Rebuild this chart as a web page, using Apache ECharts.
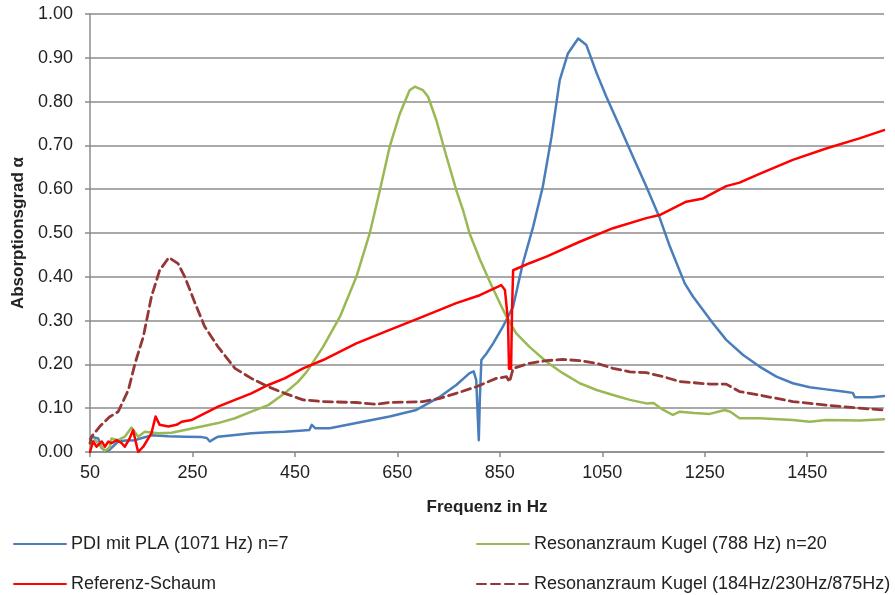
<!DOCTYPE html>
<html lang="de">
    <head>
        <title>Absorptionsgrad</title>
        <meta charset="utf-8">
        <script src='https://cdn.jsdelivr.net/npm/echarts@6.0.0/dist/echarts.min.js'></script>
    </head>

    <style>
        html, body, #main {
            width: 100%;
            height: 100%;
            margin: 0;
            background: #fff;
        }
    </style>

    <body>
        <div id='main'></div>

        <script>
            // values (Hz, alpha)
            const seriesNames = [
                'PDI mit PLA (1071 Hz) n=7',
                'Resonanzraum Kugel (788 Hz) n=20',
                'Referenz-Schaum',
                'Resonanzraum Kugel (184Hz/230Hz/875Hz)'
            ];

            const xTicks = [50, 250, 450, 650, 850, 1050, 1250, 1450];

            const pdiFreq = [50, 53, 66, 72, 80, 88, 105, 120, 138, 155, 170, 203, 235, 268, 278, 284, 292, 300, 333, 365, 400, 430, 466, 478, 483, 490, 518, 570, 635, 687, 733, 765, 791, 799, 804, 807, 809, 811, 814, 824, 837, 856, 876, 895, 915, 934, 951, 967, 983, 1003, 1019, 1039, 1058, 1084, 1110, 1136, 1162, 1182, 1211, 1227, 1266, 1292, 1325, 1357, 1390, 1422, 1455, 1487, 1520, 1539, 1543, 1578, 1600];
            const pdiAlpha = [0.03, 0.035, 0.031, 0.01, 0.002, 0.005, 0.024, 0.026, 0.027, 0.033, 0.038, 0.036, 0.035, 0.034, 0.032, 0.024, 0.030, 0.035, 0.039, 0.043, 0.045, 0.046, 0.049, 0.050, 0.062, 0.054, 0.054, 0.066, 0.081, 0.096, 0.126, 0.153, 0.18, 0.184, 0.164, 0.08, 0.027, 0.12, 0.21, 0.225, 0.248, 0.286, 0.332, 0.431, 0.514, 0.606, 0.72, 0.849, 0.91, 0.944, 0.929, 0.865, 0.811, 0.743, 0.674, 0.606, 0.535, 0.469, 0.385, 0.355, 0.294, 0.256, 0.2215, 0.195, 0.172, 0.157, 0.148, 0.143, 0.138, 0.135, 0.125, 0.125, 0.128];

            const kugel788Freq = [50, 60, 70, 79, 88, 92, 105, 118, 131, 144, 157, 183, 209, 235, 268, 300, 333, 365, 398, 430, 456, 473, 505, 538, 570, 596, 616, 635, 655, 674, 684, 700, 710, 726, 746, 765, 778, 791, 811, 830, 850, 863, 882, 908, 941, 973, 1006, 1039, 1071, 1104, 1136, 1150, 1169, 1188, 1201, 1230, 1260, 1289, 1300, 1318, 1357, 1422, 1455, 1487, 1552, 1600];
            const kugel788Alpha = [0.02, 0.027, 0.015, 0.003, 0.01, 0.031, 0.027, 0.035, 0.056, 0.035, 0.046, 0.043, 0.044, 0.05, 0.058, 0.066, 0.077, 0.092, 0.107, 0.134, 0.16, 0.183, 0.24, 0.309, 0.40, 0.499, 0.598, 0.697, 0.773, 0.826, 0.834, 0.826, 0.811, 0.758, 0.674, 0.598, 0.553, 0.499, 0.44, 0.39, 0.34, 0.309, 0.271, 0.24, 0.206, 0.18, 0.157, 0.1415, 0.13, 0.119, 0.111, 0.112, 0.096, 0.085, 0.092, 0.089, 0.087, 0.096, 0.092, 0.077, 0.077, 0.073, 0.069, 0.073, 0.072, 0.075];

            const schaumFreq = [50, 56, 63, 73, 79, 86, 92, 102, 112, 118, 127, 134, 140, 144, 154, 170, 178, 186, 203, 219, 229, 248, 268, 300, 333, 365, 398, 430, 466, 505, 570, 635, 700, 765, 811, 853, 860, 866, 868, 872, 874, 876, 908, 941, 1006, 1071, 1136, 1162, 1214, 1247, 1292, 1318, 1357, 1422, 1487, 1552, 1600];
            const schaumAlpha = [0.0, 0.024, 0.012, 0.024, 0.012, 0.024, 0.02, 0.027, 0.02, 0.012, 0.03, 0.05, 0.02, 0.0, 0.012, 0.043, 0.081, 0.062, 0.058, 0.062, 0.069, 0.073, 0.085, 0.1035, 0.119, 0.134, 0.153, 0.168, 0.191, 0.21, 0.248, 0.279, 0.309, 0.34, 0.358, 0.381, 0.37, 0.30, 0.19, 0.19, 0.33, 0.415, 0.431, 0.446, 0.48, 0.511, 0.534, 0.541, 0.5715, 0.579, 0.607, 0.615, 0.635, 0.667, 0.693, 0.716, 0.735];

            const kugel184Freq = [50, 53, 69, 88, 105, 125, 138, 154, 170, 186, 204, 222, 235, 255, 274, 300, 333, 365, 398, 430, 466, 505, 570, 609, 635, 700, 733, 765, 804, 843, 863, 869, 876, 908, 941, 973, 1006, 1039, 1071, 1104, 1136, 1169, 1201, 1260, 1292, 1318, 1357, 1422, 1487, 1552, 1600];
            const kugel184Alpha = [0.02, 0.035, 0.058, 0.08, 0.092, 0.142, 0.2025, 0.263, 0.355, 0.415, 0.444, 0.43, 0.40, 0.34, 0.286, 0.24, 0.191, 0.168, 0.149, 0.134, 0.119, 0.115, 0.113, 0.109, 0.113, 0.115, 0.1225, 0.134, 0.149, 0.168, 0.172, 0.16, 0.191, 0.2025, 0.2085, 0.2115, 0.2085, 0.2025, 0.191, 0.183, 0.181, 0.172, 0.161, 0.155, 0.155, 0.138, 0.130, 0.115, 0.107, 0.10, 0.096];

            const pairs = (xs, ys) => xs.map((x, i) => [x, ys[i]]);

            const font = "'Liberation Sans', Arial, sans-serif";
            const gridColor = '#8c8c8c';

            const lineSeries = (name, data, color, type, width) => ({
                name: name,
                type: 'line',
                data: data,
                symbol: 'none',
                smooth: false,
                lineStyle: { color: color, width: width, type: type, cap: 'round', join: 'round' },
                itemStyle: { color: color }
            });

            // the legend only shows the line, no marker
            const legendBase = {
                orient: 'vertical',
                top: 535,
                padding: 0,
                itemWidth: 52,
                itemHeight: 18,
                itemGap: 22,
                itemStyle: { opacity: 0 },
                textStyle: { fontFamily: font, fontSize: 18, color: '#222', lineHeight: 18 }
            };

            const chart = echarts.init(document.getElementById('main'));

            const option = {
                animation: false,
                grid: { left: 90, right: 11, top: 14, bottom: 143, containLabel: false },
                legend: [
                    Object.assign({ left: 13, data: [seriesNames[0], seriesNames[2]] }, legendBase),
                    Object.assign({ left: 476, data: [seriesNames[1], seriesNames[3]] }, legendBase)
                ],
                xAxis: {
                    type: 'value',
                    min: 50,
                    max: 1600,
                    name: 'Frequenz in Hz',
                    nameLocation: 'middle',
                    nameGap: 47,
                    nameTextStyle: { fontFamily: font, fontSize: 17, fontWeight: 'bold', color: '#222' },
                    axisLine: { show: true, lineStyle: { color: gridColor, width: 1.5 } },
                    axisTick: { show: true, length: 5, lineStyle: { color: gridColor, width: 1.5 }, customValues: xTicks },
                    axisLabel: {
                        fontFamily: font, fontSize: 18, color: '#222', margin: 12,
                        customValues: xTicks,
                        formatter: v => String(v)
                    },
                    splitLine: { show: false }
                },
                yAxis: {
                    type: 'value',
                    min: 0,
                    max: 1,
                    interval: 0.1,
                    name: 'Absorptionsgrad α',
                    nameLocation: 'middle',
                    nameGap: 63,
                    nameTextStyle: { fontFamily: font, fontSize: 17, fontWeight: 'bold', color: '#222' },
                    axisLine: { show: true, lineStyle: { color: gridColor, width: 1.5 } },
                    axisTick: { show: true, length: 5, lineStyle: { color: gridColor, width: 1.5 } },
                    axisLabel: {
                        fontFamily: font, fontSize: 18, color: '#222', margin: 17,
                        formatter: v => v.toFixed(2)
                    },
                    splitLine: { show: true, lineStyle: { color: gridColor, width: 1.5 } }
                },
                series: [
                    lineSeries(seriesNames[0], pairs(pdiFreq, pdiAlpha), '#4a7ebb', 'solid', 2.5),
                    lineSeries(seriesNames[1], pairs(kugel788Freq, kugel788Alpha), '#98b954', 'solid', 2.5),
                    lineSeries(seriesNames[2], pairs(schaumFreq, schaumAlpha), '#ff0000', 'solid', 2.5),
                    lineSeries(seriesNames[3], pairs(kugel184Freq, kugel184Alpha), '#953735', [9, 5], 2.8)
                ]
            };

            chart.setOption(option);

            window.onresize = function () {
                chart.resize();
            }
        </script>
    </body>
</html>
